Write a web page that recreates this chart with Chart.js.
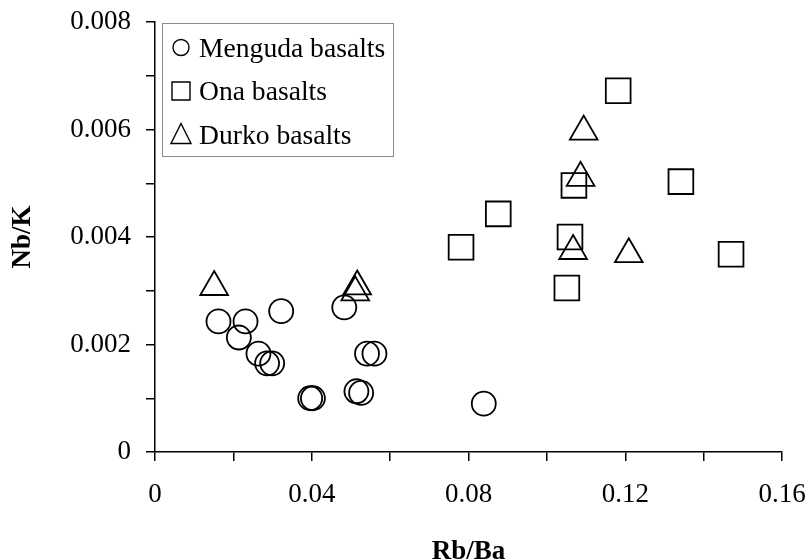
<!DOCTYPE html>
<html>
<head>
<meta charset="utf-8">
<title>Nb/K vs Rb/Ba</title>
<script src="https://cdn.jsdelivr.net/npm/chart.js@4/dist/chart.umd.min.js"></script>
<style>
  body { margin: 0; background: #fff; }
  #caja { width: 810px; height: 560px; }
</style>
</head>
<body>
<div id="caja"><canvas id="grafico" width="810" height="560"></canvas></div>
<script>
const d = document;

// Datos
const seriesNames = ["Menguda basalts", "Ona basalts", "Durko basalts"];

const mengudaRbBa = [0.0162, 0.0231, 0.0214, 0.0264, 0.0286, 0.0299, 0.0322, 0.0396, 0.0403, 0.0483, 0.0514, 0.0526, 0.0541, 0.0560, 0.0839];
const mengudaNbK  = [0.00243, 0.00243, 0.00213, 0.00183, 0.00165, 0.00165, 0.00262, 0.00100, 0.00100, 0.00269, 0.00113, 0.00110, 0.00183, 0.00183, 0.00090];

const onaRbBa = [0.1182, 0.1069, 0.1342, 0.0876, 0.0781, 0.1059, 0.1470, 0.1051];
const onaNbK  = [0.00672, 0.00496, 0.00503, 0.00443, 0.00381, 0.00400, 0.00368, 0.00305];

const durkoRbBa = [0.0151, 0.0516, 0.0511, 0.1094, 0.1086, 0.1067, 0.1209];
const durkoNbK  = [0.00307, 0.00308, 0.00297, 0.00596, 0.00510, 0.00374, 0.00368];

const xTickLabels = ["0", "0.04", "0.08", "0.12", "0.16"];
const yTickLabels = ["0", "0.002", "0.004", "0.006", "0.008"];

const xTitle = "Rb/Ba", yTitle = "Nb/K";

const serif = "'Liberation Serif', 'Times New Roman', serif";

const toPoints = (xs, ys) => xs.map((x, i) => ({ x: x, y: ys[i] }));

// Quitar el relleno extra que las escalas piden por sus etiquetas
const sinRelleno = (scale) => {
  scale.paddingTop = 0;
  scale.paddingBottom = 0;
  scale.paddingLeft = 0;
  scale.paddingRight = 0;
};

// Leyenda dentro del area, con recuadro gris
const leyendaCaja = {
  id: "leyendaCaja",
  afterDraw: (chart) => {
    const ctx = chart.ctx;
    ctx.save();
    ctx.fillStyle = "#fff";
    ctx.fillRect(162, 23, 231, 133);
    ctx.strokeStyle = "#8c8c8c";
    ctx.lineWidth = 1;
    ctx.strokeRect(162.5, 23.5, 231, 133);

    const filas = [56.5, 100, 143.5];
    chart.data.datasets.forEach((ds, i) => {
      const cy = filas[i] - 9, cx = 181;
      ctx.strokeStyle = "#000";
      ctx.lineWidth = 1.4;
      ctx.beginPath();
      if (ds.pointStyle === "circle") {
        ctx.arc(cx, cy, 8, 0, Math.PI * 2);
      } else if (ds.pointStyle === "rect") {
        ctx.rect(cx - 9, cy - 9, 18, 18);
      } else {
        ctx.moveTo(cx, cy - 11);
        ctx.lineTo(cx + 10, cy + 9);
        ctx.lineTo(cx - 10, cy + 9);
        ctx.closePath();
      }
      ctx.stroke();
      ctx.fillStyle = "#000";
      ctx.font = "27.6px " + serif;
      ctx.textBaseline = "alphabetic";
      ctx.textAlign = "left";
      ctx.fillText(ds.label, 199, filas[i]);
    });
    ctx.restore();
  }
};

const $grafico = d.getElementById("grafico");

const config = {
  type: "scatter",
  data: {
    datasets: [
      {
        label: seriesNames[0],
        data: toPoints(mengudaRbBa, mengudaNbK),
        pointStyle: "circle",
        radius: 12,
        borderWidth: 1.8,
        borderColor: "#000",
        backgroundColor: "rgba(0,0,0,0)"
      },
      {
        label: seriesNames[1],
        data: toPoints(onaRbBa, onaNbK),
        pointStyle: "rect",
        radius: 17.5,
        borderWidth: 1.8,
        borderColor: "#000",
        backgroundColor: "rgba(0,0,0,0)"
      },
      {
        label: seriesNames[2],
        data: toPoints(durkoRbBa, durkoNbK),
        pointStyle: "triangle",
        radius: 16,
        borderWidth: 1.8,
        borderColor: "#000",
        backgroundColor: "rgba(0,0,0,0)"
      }
    ]
  },
  options: {
    responsive: false,
    animation: false,
    events: [],
    layout: { padding: { left: 0, right: 28, top: 22, bottom: 0 } },
    plugins: {
      legend: { display: false },
      tooltip: { enabled: false }
    },
    scales: {
      x: {
        type: "linear",
        min: 0,
        max: 0.16,
        afterFit: (scale) => { scale.height = 108; sinRelleno(scale); },
        ticks: {
          stepSize: 0.02,
          autoSkip: false,
          maxRotation: 0,
          padding: 18,
          color: "#000",
          font: { family: serif, size: 27 },
          callback: (v, i) => (i % 2 === 0 ? xTickLabels[i / 2] : "")
        },
        grid: { display: true, drawOnChartArea: false, drawTicks: true, tickLength: 9, color: "#000", lineWidth: 1.5 },
        border: { display: true, color: "#000", width: 1.5 },
        title: {
          display: true,
          text: xTitle,
          color: "#000",
          font: { family: serif, size: 27, weight: "bold", lineHeight: 0.6 },
          padding: 0
        }
      },
      y: {
        type: "linear",
        min: 0,
        max: 0.008,
        afterFit: (scale) => { scale.width = 155; sinRelleno(scale); },
        ticks: {
          stepSize: 0.001,
          autoSkip: false,
          padding: 15,
          color: "#000",
          font: { family: serif, size: 27 },
          callback: (v, i) => (i % 2 === 0 ? yTickLabels[i / 2] : "")
        },
        grid: { display: true, drawOnChartArea: false, drawTicks: true, tickLength: 9, color: "#000", lineWidth: 1.5 },
        border: { display: true, color: "#000", width: 1.5 },
        title: {
          display: true,
          text: yTitle,
          color: "#000",
          font: { family: serif, size: 27, weight: "bold" },
          padding: { top: 7, bottom: 0 }
        }
      }
    }
  },
  plugins: [leyendaCaja]
};

new Chart($grafico, config);
</script>
</body>
</html>
